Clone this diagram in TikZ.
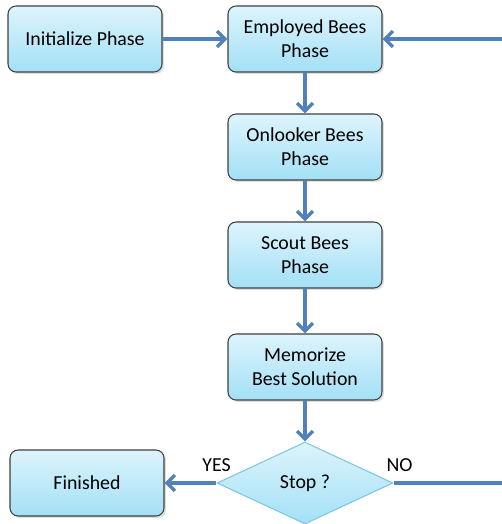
\documentclass[tikz,border=0pt]{standalone}
\usepackage{fontspec}
\setmainfont{Carlito}
\usetikzlibrary{shapes.geometric,arrows.meta,shadows}
\definecolor{flowblue}{HTML}{4F81BD}
\definecolor{boxtop}{HTML}{DDF4FC}
\definecolor{boxbot}{HTML}{A3E0F6}
\definecolor{boxline}{HTML}{3F3F3F}
\definecolor{diamline}{HTML}{7CC6E0}
\begin{document}
\begin{tikzpicture}[x=0.02cm, y=-0.02cm, >={Straight Barb[length=4.5pt,width=9pt]},
    main node/.style={rectangle, rounded corners=0.16cm, draw=boxline, line width=0.6pt, top color=boxtop, bottom color=boxbot, minimum width=3.08cm, minimum height=1.32cm, align=center, font=\fontsize{11.3}{13.6}\selectfont, drop shadow={opacity=0.25, shadow xshift=0.04cm, shadow yshift=-0.04cm}},
    test node/.style={diamond, draw=diamline, line width=0.6pt, top color=boxtop, bottom color=boxbot, minimum width=3.52cm, minimum height=1.64cm, inner sep=0pt, font=\fontsize{11.3}{13.6}\selectfont},
    flow/.style={->, draw=flowblue, line width=2pt},
    answer/.style={font=\fontsize{11.3}{13.6}\selectfont}]

                \useasboundingbox (0,0) rectangle (501,524);

                \node[main node] at (85, 39) (init) {Initialize Phase};
                \node[main node] at (305, 39) (employed) {Employed Bees\\Phase};
                \node[main node] at (305, 147) (onlooker) {Onlooker Bees\\Phase};
                \node[main node] at (305, 255) (scout) {Scout Bees\\Phase};
                \node[main node] at (305, 367) (memorize) {Memorize\\Best Solution};
                \node[test node] at (305, 483) (stop) {Stop ?};
                \node[main node] at (87, 483) (finished) {Finished};
                \coordinate (back) at (512, 483);

                \path[flow] (init) edge (employed);
                \path[flow] (employed) edge (onlooker);
                \path[flow] (onlooker) edge (scout);
                \path[flow] (scout) edge (memorize);
                \path[flow] (memorize) edge (stop);
                \path[flow] (stop) edge node[at start, above, answer, yshift=2pt] {YES} (finished);
                \draw[flow] (stop.east) node[above, answer, xshift=0.12cm, yshift=2pt] {NO} -- (back) |- (employed);
            \end{tikzpicture}
\end{document}
